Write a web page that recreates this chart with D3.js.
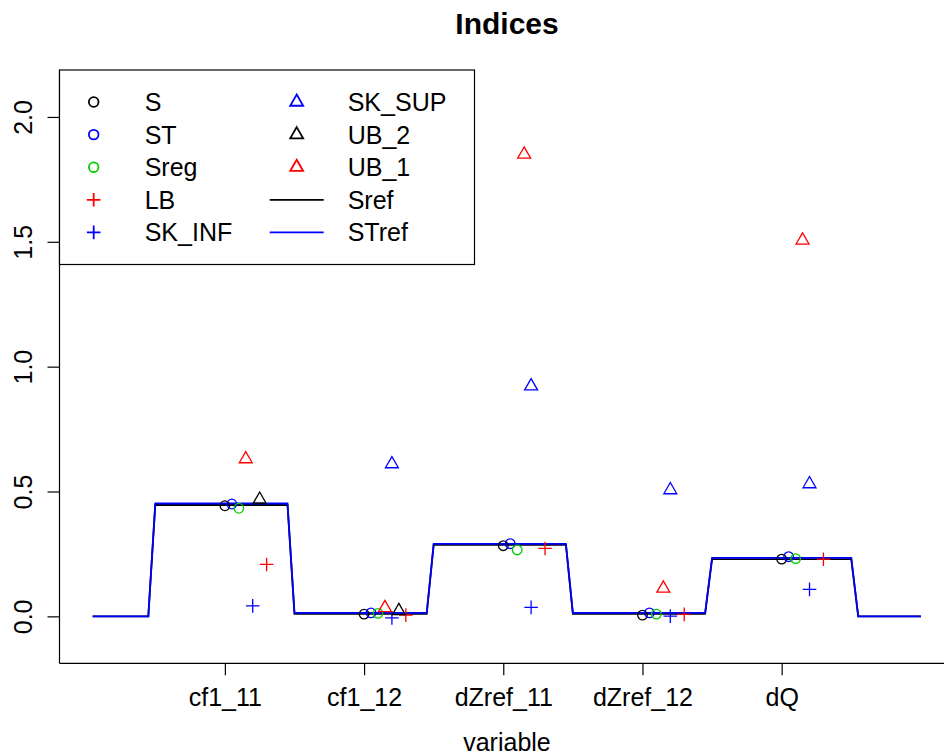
<!DOCTYPE html>
<html>
<head>
<meta charset="utf-8">
<script src="https://cdn.jsdelivr.net/npm/d3@7"></script>
<style>
  body { margin: 0; background: #fff; }
  svg { display: block; font-family: "Liberation Sans", Arial, Helvetica, sans-serif; }
</style>
</head>
<body>
<svg id="chart" width="944" height="755"></svg>
<script>
/* Indices: point estimates per variable plus the two reference step lines */

const variables = ["cf1_11", "cf1_12", "dZref_11", "dZref_12", "dQ"];

// one entry per variable, null = not visible in the picture
const S      = [0.443, 0.009, 0.283, 0.005, 0.229];
const ST     = [0.450, 0.014, 0.291, 0.014, 0.239];
const Sreg   = [0.433, 0.012, 0.266, 0.009, 0.231];
const LB     = [0.208, 0.005, 0.272, 0.008, 0.229];
const SK_INF = [0.042, -0.006, 0.036, 0.001, 0.108];
const SK_SUP = [null, 0.610, 0.922, 0.506, 0.530];
const UB_2   = [0.468, 0.022, null, null, null];
const UB_1   = [0.630, 0.034, 1.850, 0.112, 1.506];

// reference step lines (x knots in variable units)
const stepX  = [0.05, 0.45, 0.5, 1.45, 1.5, 2.45, 2.5, 3.45, 3.5, 4.45, 4.5, 5.5, 5.55, 6.0];
const Sref   = [0, 0, 0.446, 0.446, 0.010, 0.010, 0.286, 0.286, 0.010, 0.010, 0.229, 0.229, 0, 0];
const STref  = [0, 0, 0.452, 0.452, 0.014, 0.014, 0.290, 0.290, 0.014, 0.014, 0.234, 0.234, 0, 0];

const yTicks = [0, 0.5, 1.0, 1.5, 2.0];

const BLACK = "#000000", BLUE = "#0000ff", RED = "#ff0000", GREEN = "#00cd00";

// series: values, colour, shape, x offset from the variable's position
const SERIES = [
  { name: "S",      vals: S,      color: BLACK, shape: "circle",   dx: 0.00 },
  { name: "ST",     vals: ST,     color: BLUE,  shape: "circle",   dx: 0.05 },
  { name: "Sreg",   vals: Sreg,   color: GREEN, shape: "circle",   dx: 0.10 },
  { name: "LB",     vals: LB,     color: RED,   shape: "plus",     dx: 0.30 },
  { name: "SK_INF", vals: SK_INF, color: BLUE,  shape: "plus",     dx: 0.20 },
  { name: "SK_SUP", vals: SK_SUP, color: BLUE,  shape: "triangle", dx: 0.20 },
  { name: "UB_2",   vals: UB_2,   color: BLACK, shape: "triangle", dx: 0.25 },
  { name: "UB_1",   vals: UB_1,   color: RED,   shape: "triangle", dx: 0.15 }
];
const LINES = [
  { name: "Sref",  vals: Sref,  color: BLACK },
  { name: "STref", vals: STref, color: BLUE }
];

const svg = d3.select("#chart");
const FS = 25;

const x = d3.scaleLinear().domain([-0.188, 6.238]).range([59.5, 954]);
const y = d3.scaleLinear().domain([-0.188, 2.188]).range([663.3, 70]);

// R-like plotting symbols
const R = 4.8;
function symbolPath(shape) {
  if (shape === "circle") {
    const p = d3.path();
    p.arc(0, 0, R, 0, 2 * Math.PI);
    p.closePath();
    return p.toString();
  }
  if (shape === "plus") {
    const a = Math.SQRT2 * R;
    return `M${-a},0H${a}M0,${-a}V${a}`;
  }
  const r = 1.5551 * R, h = 1.3468 * R, yc = 0.7776 * R;
  return `M0,${-r}L${h},${yc}L${-h},${yc}Z`;
}

// title
svg.append("text").attr("x", 507).attr("y", 34).attr("text-anchor", "middle")
  .attr("font-size", 30).attr("font-weight", "bold").text("Indices");

// axes (L-shaped frame)
const axisG = svg.append("g").attr("stroke", "#000").attr("stroke-width", 1.2);
axisG.append("line").attr("x1", 59.5).attr("x2", 59.5).attr("y1", 70).attr("y2", 663.3);
axisG.append("line").attr("x1", 59.5).attr("x2", 944).attr("y1", 663.3).attr("y2", 663.3);

const yAxis = svg.append("g").attr("transform", "translate(59.5,0)")
  .call(d3.axisLeft(y).tickValues(yTicks).tickSize(12).tickFormat(d3.format(".1f")));
yAxis.select(".domain").remove();
yAxis.selectAll(".tick line").attr("stroke-width", 1.2);
yAxis.selectAll(".tick text")
  .attr("font-size", FS).attr("font-family", null).attr("fill", "#000")
  .attr("text-anchor", "middle").attr("dy", null)
  .attr("transform", "rotate(-90)")
  .attr("x", 0).attr("y", -28);

const xAxis = svg.append("g").attr("transform", "translate(0,663.3)")
  .call(d3.axisBottom(x).tickValues(d3.range(1, variables.length + 1)).tickSize(12)
    .tickFormat(i => variables[i - 1]));
xAxis.select(".domain").remove();
xAxis.selectAll(".tick line").attr("stroke-width", 1.2);
xAxis.selectAll(".tick text").attr("font-size", FS).attr("font-family", null)
  .attr("fill", "#000").attr("dy", null).attr("y", 43);

svg.append("text").attr("x", 507).attr("y", 751).attr("text-anchor", "middle")
  .attr("font-size", FS).text("variable");

// reference step lines
const line = d3.line().x((d, i) => x(stepX[i])).y(d => y(d));
svg.append("g").selectAll("path").data(LINES).join("path")
  .attr("d", d => line(d.vals))
  .attr("fill", "none").attr("stroke", d => d.color).attr("stroke-width", 1.8);

// points
const pts = [];
SERIES.forEach(s => s.vals.forEach((v, i) => {
  if (v != null) pts.push({ s, x: i + 1 + s.dx, v });
}));
svg.append("g").selectAll("path").data(pts).join("path")
  .attr("transform", d => `translate(${x(d.x)},${y(d.v)})`)
  .attr("d", d => symbolPath(d.s.shape))
  .attr("fill", "none").attr("stroke", d => d.s.color).attr("stroke-width", 1.3);

// legend
const leg = svg.append("g");
leg.append("rect").attr("x", 59.5).attr("y", 70).attr("width", 415).attr("height", 194.5)
  .attr("fill", "#fff").attr("stroke", "#000").attr("stroke-width", 1.2);
const legItems = SERIES.map(s => ({ name: s.name, color: s.color, shape: s.shape }))
  .concat(LINES.map(l => ({ name: l.name, color: l.color, shape: "line" })));
const rowY = i => 102 + (i % 5) * 32.6;
const entries = leg.selectAll("g.entry").data(legItems).join("g").attr("class", "entry")
  .attr("transform", (d, i) => `translate(${i < 5 ? 93.7 : 296.7},${rowY(i)})`);
entries.filter(d => d.shape !== "line").append("path")
  .attr("d", d => symbolPath(d.shape))
  .attr("fill", "none").attr("stroke", d => d.color).attr("stroke-width", 1.8);
entries.filter(d => d.shape === "line").append("line")
  .attr("x1", -27).attr("x2", 27).attr("stroke", d => d.color).attr("stroke-width", 1.8);
entries.append("text").attr("x", 51).attr("y", 9)
  .attr("font-size", FS).text(d => d.name);
</script>
</body>
</html>
